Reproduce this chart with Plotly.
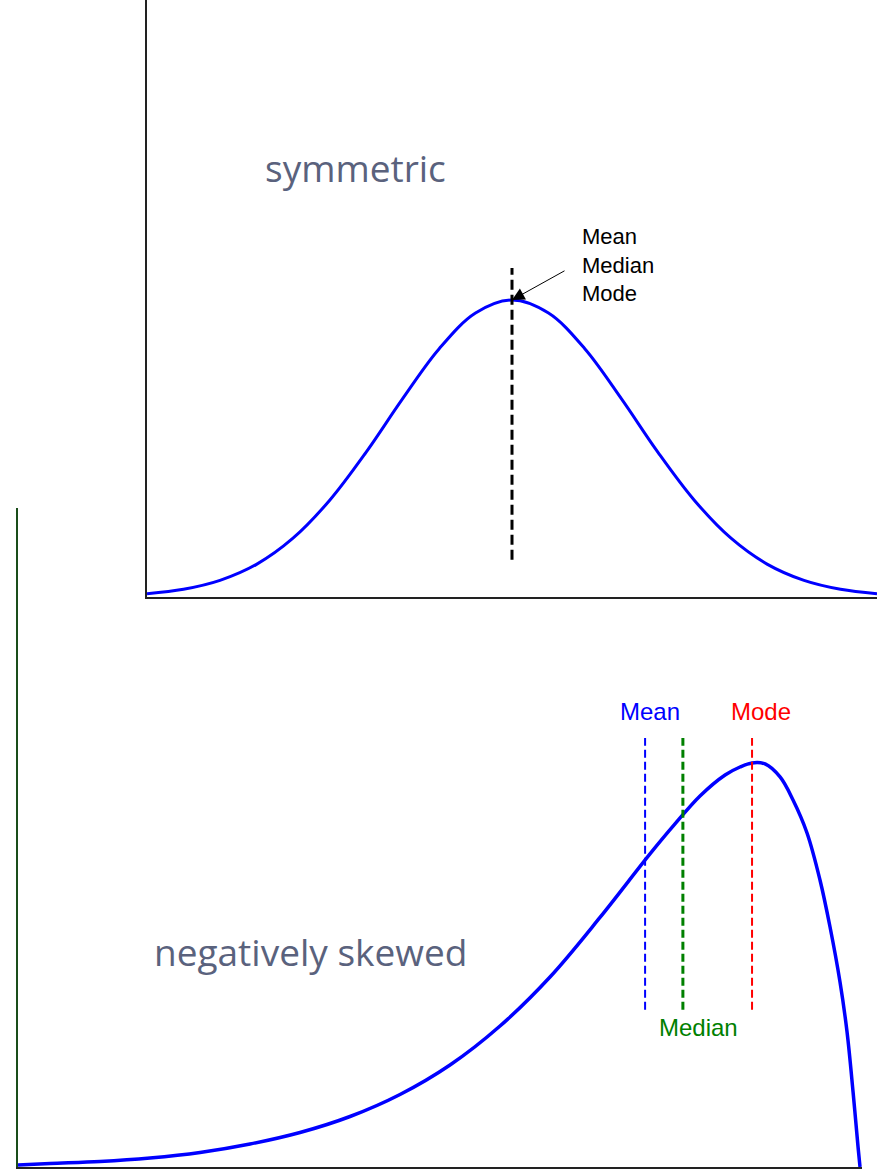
import plotly.graph_objects as go

W, H = 883, 1172

# ---- top panel: symmetric distribution (x units 0..10, height units, peak = 100)
sym_x = [0, 0.5, 1, 1.5, 2, 2.5, 3, 3.5, 4, 4.5, 5, 5.5, 6, 6.5, 7, 7.5, 8, 8.5, 9, 9.5, 10]
sym_y = [1.1, 2.6, 5.6, 11.0, 19.8, 32.5, 48.7, 66.7, 83.5, 95.6, 100,
         95.6, 83.5, 66.7, 48.7, 32.5, 19.8, 11.0, 5.6, 2.6, 1.1]
sym_center = 5.0
sym_line_y = [12.5, 110.8]
sym_label = "Mean<br>Median<br>Mode"

# ---- bottom panel: negatively skewed distribution
skew_x = [0, 3.73, 9.55, 15.37, 21.19, 27.01, 32.83, 38.65, 44.47, 50.29, 56.11, 61.93,
          67.75, 73.57, 76.48, 79.39, 82.31, 84.05, 85.45, 86.96, 88.71, 90.22, 91.85,
          93.36, 94.53, 95.69, 96.51, 97.21, 97.79, 98.02]
skew_y = [0.5, 0.87, 1.36, 2.23, 3.59, 5.69, 8.54, 12.5, 17.95, 25.25, 34.9, 47.03,
          61.76, 77.48, 84.9, 91.83, 97.03, 99.0, 100, 99.75, 96.53, 90.84, 82.67,
          71.04, 59.4, 45.79, 33.42, 18.56, 4.95, 0]
stat_names = ["Mean", "Median", "Mode"]
stat_x = [73.0, 77.4, 85.45]
stat_colors = ["#0000ff", "#008000", "#ff0000"]
stat_widths = [2, 3, 2]
stat_line_y = [38.9, 106.2]

fig = go.Figure()

fig.add_trace(go.Scatter(x=sym_x, y=sym_y, mode="lines", line=dict(color="#0000ff", width=3, shape="spline"),
                         xaxis="x", yaxis="y", hoverinfo="skip"))
fig.add_trace(go.Scatter(x=[sym_center, sym_center], y=sym_line_y, mode="lines",
                         line=dict(color="black", width=3, dash="10px,5px"), xaxis="x", yaxis="y"))

fig.add_trace(go.Scatter(x=skew_x, y=skew_y, mode="lines",
                         line=dict(color="#0000ff", width=3.5, shape="spline", smoothing=1.0),
                         xaxis="x2", yaxis="y2", hoverinfo="skip"))
for sx, c, w in zip(stat_x, stat_colors, stat_widths):
    fig.add_trace(go.Scatter(x=[sx, sx], y=stat_line_y, mode="lines",
                             line=dict(color=c, width=w, dash="8px,4px"), xaxis="x2", yaxis="y2"))

def px(x):
    return x / W

def py(y):
    return 1 - y / H

axis_common = dict(showgrid=False, zeroline=False, ticks="", showticklabels=False, showline=True, linewidth=2)

fig.update_layout(
    width=W, height=H, margin=dict(l=0, r=0, t=0, b=0),
    paper_bgcolor="white", plot_bgcolor="rgba(0,0,0,0)", showlegend=False,
    xaxis=dict(domain=[px(147), px(877)], range=[0, 10], anchor="y", linecolor="#222222", **axis_common),
    yaxis=dict(domain=[py(597), 1.0], range=[0, 201], anchor="x", linecolor="#222222", **axis_common),
    xaxis2=dict(domain=[px(18), px(862)], range=[0, 98.25], anchor="y2", linecolor="#222222", **axis_common),
    yaxis2=dict(domain=[py(1167), py(508)], range=[0, 163.1], anchor="x2", linecolor="#1a4d1a", **axis_common),
)

ann = []
# arrow to peak
ann.append(dict(x=sym_center, y=100, xref="x", yref="y", text="", showarrow=True,
                ax=54, ay=-30, arrowhead=2, arrowsize=2.5, arrowwidth=1, arrowcolor="black", standoff=0))
ann.append(dict(x=px(580), y=py(265), xref="paper", yref="paper", text=sym_label, showarrow=False,
                xanchor="left", yanchor="middle", align="left",
                font=dict(family="Liberation Sans, Arial", size=22, color="black")))
ann.append(dict(x=px(355), y=py(167), xref="paper", yref="paper", text="symmetric", showarrow=False,
                xanchor="center", yanchor="middle", font=dict(family="Open Sans", size=37, color="#5a627d")))
ann.append(dict(x=px(310), y=py(951), xref="paper", yref="paper", text="negatively skewed", showarrow=False,
                xanchor="center", yanchor="middle", font=dict(family="Open Sans", size=37, color="#5a627d")))
label_pos = {"Mean": (650, 711), "Median": (698, 1027), "Mode": (761, 711)}
for name, c in zip(stat_names, stat_colors):
    lx, ly = label_pos[name]
    ann.append(dict(x=px(lx), y=py(ly), xref="paper", yref="paper", text=name, showarrow=False,
                    xanchor="center", yanchor="middle",
                    font=dict(family="Liberation Sans, Arial", size=24, color=c)))
fig.update_layout(annotations=ann)

fig.write_html("out.html", config={"displayModeBar": False},
               post_script="document.body.style.margin='0';")
